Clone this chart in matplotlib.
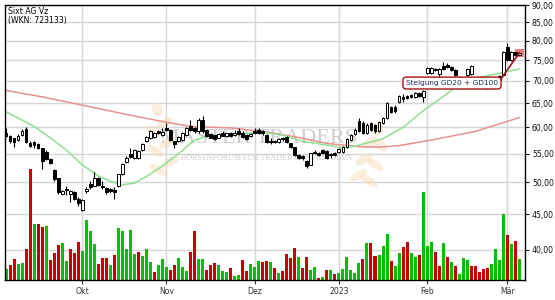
import matplotlib
matplotlib.use('Agg')
import matplotlib.pyplot as plt
from matplotlib.patches import Rectangle, Ellipse
from matplotlib.ticker import FixedLocator, NullLocator, FixedFormatter
import numpy as np

plt.rcParams['font.family'] = ['DejaVu Sans']

# --- data (one entry per trading day, Sep 2022 - Mar 2023) ---
opens = [58.9, 58.3, 57.9, 57.5, 58.5, 59.6, 56.9, 57.1, 56.8, 56.0,
         55.4, 54.0, 52.1, 50.7, 48.2, 49.0, 48.1, 48.4, 47.4, 45.6,
         48.6, 49.8, 49.5, 50.8, 49.4, 49.1, 49.0, 48.7, 49.5, 51.4,
         53.5, 55.0, 54.2, 54.3, 55.7, 57.3, 58.0, 58.2, 59.2, 58.6,
         59.8, 59.5, 57.3, 57.3, 57.5, 58.6, 60.2, 59.8, 59.2, 61.5,
         59.5, 58.7, 58.5, 58.0, 59.0, 58.4, 58.9, 58.6, 59.2, 59.0,
         58.6, 58.4, 59.3, 59.4, 59.3, 58.5, 57.4, 57.4, 57.1, 57.9,
         58.1, 56.9, 56.2, 54.7, 54.6, 53.7, 53.0, 55.4, 55.1, 55.7,
         55.5, 55.0, 55.2, 55.3, 55.4, 56.2, 57.6, 58.8, 61.2, 60.9,
         59.0, 60.8, 60.5, 59.3, 60.8, 61.9, 64.3, 64.2, 65.3, 66.4,
         66.6, 66.8, 66.4, 67.2, 66.4, 71.8, 71.8, 72.9, 71.5, 73.5,
         73.8, 73.2, 72.6, 71.0, 70.2, 71.4, 71.6, 70.5, 70.0, 69.4,
         69.0, 68.8, 69.4, 71.1, 71.4, 78.2, 75.0, 77.0, 76.3]
highs = [59.9, 58.5, 58.0, 58.7, 59.6, 60.0, 57.4, 57.3, 57.0, 56.1,
         55.6, 54.2, 52.3, 50.8, 48.7, 49.5, 48.7, 48.6, 47.6, 47.3,
         49.3, 50.3, 51.8, 51.0, 50.3, 49.2, 49.1, 49.2, 51.5, 53.3,
         54.6, 56.0, 55.8, 55.7, 57.0, 58.4, 59.5, 59.1, 59.4, 59.8,
         60.8, 59.7, 57.4, 58.4, 59.1, 60.0, 61.5, 60.0, 62.0, 62.4,
         59.7, 58.9, 58.6, 58.9, 59.2, 59.0, 59.1, 59.5, 59.9, 59.2,
         58.8, 59.0, 59.9, 59.8, 59.5, 58.7, 57.9, 57.6, 58.0, 58.1,
         58.3, 57.0, 56.3, 55.0, 54.8, 53.9, 55.2, 55.6, 55.3, 55.9,
         55.6, 55.2, 55.4, 56.1, 56.4, 57.9, 58.8, 59.8, 62.0, 61.2,
         60.8, 61.0, 60.7, 61.2, 62.1, 65.3, 64.5, 64.6, 66.9, 67.0,
         66.9, 67.0, 67.5, 67.4, 68.0, 73.2, 73.2, 73.1, 73.0, 74.5,
         74.2, 73.6, 72.8, 71.2, 71.0, 73.0, 73.7, 70.9, 70.4, 69.8,
         69.4, 69.8, 70.8, 71.3, 77.4, 79.4, 77.2, 77.3, 77.2]
lows = [58.1, 56.9, 56.3, 57.4, 58.4, 57.0, 56.2, 56.0, 55.9, 52.2,
        53.8, 53.1, 50.3, 48.2, 48.1, 48.0, 46.8, 47.2, 46.3, 45.5,
        48.3, 49.0, 49.4, 49.4, 49.0, 48.1, 48.3, 47.4, 49.3, 51.2,
        53.3, 54.3, 54.0, 54.1, 55.5, 57.1, 57.8, 58.0, 58.7, 58.4,
        59.3, 57.4, 56.0, 57.1, 57.3, 58.4, 59.3, 58.9, 59.0, 59.0,
        58.1, 57.9, 57.6, 57.9, 58.3, 58.2, 58.1, 58.4, 58.6, 58.0,
        57.6, 58.2, 58.8, 58.8, 58.6, 57.0, 56.8, 56.9, 57.0, 57.3,
        57.0, 56.1, 54.5, 54.0, 53.8, 52.5, 52.9, 54.9, 54.6, 55.0,
        54.0, 54.2, 54.6, 55.1, 55.2, 56.0, 57.4, 58.6, 59.1, 58.8,
        58.8, 59.3, 59.0, 59.1, 60.6, 61.7, 62.9, 63.0, 65.0, 65.3,
        65.9, 66.2, 66.2, 66.3, 65.3, 71.5, 71.6, 72.3, 71.2, 72.6,
        73.0, 72.3, 71.2, 69.5, 69.8, 71.2, 71.4, 69.6, 69.2, 68.6,
        68.2, 68.5, 69.2, 69.9, 71.2, 74.8, 74.8, 76.0, 76.1]
closes = [58.4, 57.3, 57.1, 58.4, 59.3, 57.1, 56.5, 56.7, 56.0, 53.6,
          54.0, 53.3, 50.5, 48.4, 48.6, 48.7, 48.6, 47.4, 46.7, 47.2,
          49.0, 49.2, 50.7, 49.6, 49.2, 48.5, 48.6, 48.5, 51.4, 53.1,
          54.3, 54.4, 55.6, 55.5, 56.8, 58.2, 59.2, 58.9, 59.0, 59.1,
          59.5, 57.6, 56.8, 58.2, 58.9, 59.8, 59.5, 59.2, 61.5, 59.2,
          58.3, 58.0, 57.8, 58.7, 58.4, 58.9, 58.3, 59.0, 58.8, 58.2,
          57.8, 58.8, 59.0, 59.0, 58.9, 57.1, 57.1, 57.1, 57.8, 57.7,
          57.1, 56.3, 54.7, 54.3, 54.2, 52.8, 55.1, 55.1, 54.8, 55.1,
          54.2, 54.7, 54.8, 55.9, 56.2, 57.7, 58.6, 59.5, 59.3, 59.0,
          60.5, 59.5, 59.3, 61.0, 61.9, 65.0, 63.1, 63.4, 66.6, 66.0,
          66.2, 66.4, 67.3, 66.5, 67.7, 73.0, 73.0, 72.5, 72.8, 72.8,
          73.2, 72.6, 71.4, 70.0, 70.8, 72.8, 73.5, 70.0, 69.5, 69.0,
          68.6, 69.4, 70.3, 70.2, 77.1, 75.0, 76.9, 76.3, 76.8]
volume = [11, 15, 21, 16, 17, 31, 111, 56, 56, 53, 54, 20, 27, 35, 37, 19, 31, 27, 38, 29,
          60, 49, 36, 16, 22, 22, 15, 25, 52, 49, 31, 50, 26, 28, 24, 31, 18, 8, 15, 21,
          13, 10, 15, 22, 13, 9, 28, 49, 21, 21, 10, 15, 17, 15, 9, 8, 12, 4, 5, 20,
          9, 16, 13, 19, 18, 19, 18, 12, 7, 9, 26, 22, 32, 23, 12, 23, 10, 13, 2, 3,
          10, 10, 6, 7, 11, 23, 10, 7, 17, 21, 37, 37, 24, 25, 34, 46, 19, 14, 27, 33,
          38, 27, 23, 25, 88, 34, 38, 28, 14, 37, 23, 18, 14, 6, 22, 20, 14, 14, 8, 11,
          12, 16, 31, 20, 66, 45, 36, 39, 21]
vol_dir = ('grrggrrgrrgrrrggrrrg' 'gggrrrgrgggggrgggrgg' 'grrgggrrggrrrgggrggr'
           'rgggrrgrgrrrrgrrggrg' 'rgrggggggrgrrgggrggr' 'rggrgggrrgrgrgggrrrr'
           'rggggrgrg')

# moving averages, read at a few days
gd20_day = [0, 7, 11, 15, 19, 23, 26, 29, 32, 35, 39, 43, 47, 51, 55, 59, 64, 69,
            74, 79, 84, 87, 90, 94, 99, 104, 108, 112, 117, 123, 128]
gd20_val = [63.2, 60.2, 58.0, 55.7, 53.0, 51.1, 50.2, 49.6, 49.9, 51.0, 52.8, 55.0,
            57.5, 58.5, 58.6, 58.8, 59.0, 58.5, 57.3, 56.7, 56.1, 56.4, 57.0, 57.8,
            60.0, 63.4, 65.8, 68.5, 70.6, 71.8, 72.8]
gd100_day = [0, 9, 19, 32, 39, 46, 56, 64, 72, 80, 88, 93, 98, 105, 117, 128]
gd100_val = [67.8, 66.4, 64.6, 62.3, 61.2, 60.2, 59.9, 59.2, 58.2, 56.9, 56.3, 56.2,
             56.5, 57.4, 59.2, 62.0]

month_pos = [19, 40, 62, 83, 105, 125]
month_labels = ['Okt', 'Nov', 'Dez', '2023', 'Feb', 'Mär']
price_ticks = [40, 45, 50, 55, 60, 65, 70, 75, 80, 85, 90]

x = np.arange(len(closes))
o = np.array(opens)
c = np.array(closes)

fig = plt.figure(figsize=(5.55, 3.0), dpi=100)
base = fig.add_axes([5 / 555, 20 / 300, 520 / 555, 275 / 300])
base.set_yscale('log')
base.set_ylim(36.2, 90)
base.set_xlim(-0.25, 129.4)
base.grid(True, color='#d6d6d6', lw=1)
for s in base.spines.values():
    s.set_visible(False)

# volume
vol = base.twinx()
vol.set_ylim(0, 275)
vol.yaxis.set_visible(False)
for s in vol.spines.values():
    s.set_visible(False)
vcols = ['#00c000' if d == 'g' else '#c80000' for d in vol_dir]
vol.bar(x, volume, width=0.75, color=vcols, linewidth=0)

# price
px = base.twinx()
px.set_yscale('log')
px.set_ylim(36.2, 90)
px.yaxis.set_visible(False)
for s in px.spines.values():
    s.set_color('black')
    s.set_linewidth(1)

# ticks on the base axis (twinx moved them to the left, put them back right)
base.yaxis.set_major_locator(FixedLocator(price_ticks))
base.yaxis.set_minor_locator(NullLocator())
base.yaxis.set_major_formatter(FixedFormatter(['%d,00' % v for v in price_ticks]))
base.yaxis.tick_right()
base.set_xticks(month_pos)
base.set_xticklabels(month_labels)
base.tick_params(axis='y', labelsize=5.6, length=3, pad=2, colors='#111111', width=0.8)
base.tick_params(axis='x', labelsize=5.6, length=3, pad=2, colors='#333333', width=0.8)

# watermark: text plus two faint wheat sprigs
px.text(0.487, 0.516, 'MASTER TRADERS', transform=px.transAxes, ha='center', va='center',
        fontsize=16, family='Liberation Serif', color='#cdcdcd', zorder=0)
px.text(0.504, 0.445, 'BÖRSENFORUM FÜR TRADER & INVESTOREN', transform=px.transAxes,
        ha='center', va='center', fontsize=5.8, family='Liberation Serif',
        color='#cdcdcd', zorder=0)
for cx, cy, ang in [(0.295, 0.40, 35), (0.318, 0.43, -35), (0.288, 0.47, 30),
                    (0.312, 0.50, -30), (0.285, 0.54, 25), (0.306, 0.57, -25),
                    (0.293, 0.62, 5),
                    (0.680, 0.38, -35), (0.700, 0.36, 35), (0.690, 0.44, -30),
                    (0.712, 0.42, 30), (0.702, 0.50, -25), (0.722, 0.49, 25),
                    (0.716, 0.55, -5)]:
    px.add_patch(Ellipse((cx, cy), 0.022, 0.05, angle=ang, transform=px.transAxes,
                         facecolor='#f7dcb8', edgecolor='none', alpha=0.5, zorder=0))

px.plot(gd100_day, gd100_val, color='#e89090', lw=1.1, zorder=2)
px.plot(gd20_day, gd20_val, color='#8fe08f', lw=1.1, zorder=2)

px.vlines(x, lows, highs, color='black', lw=0.8, zorder=3)
body_col = np.where(c >= o, 'white', 'black')
px.bar(x, np.abs(c - o), bottom=np.minimum(o, c), width=0.7, color=body_col,
       edgecolor='black', linewidth=0.7, zorder=4)

# marker on last close
last = closes[-1]
px.add_patch(Rectangle((x[-1] - 1.05, last * 0.986), 2.15, last * 0.028,
                       facecolor='#f06a6a', edgecolor='none', alpha=0.9, zorder=3.5))

px.annotate('Steigung GD20 + GD100', xy=(x[-1], last), xytext=(111.2, 69.5),
            ha='center', va='center', fontsize=5.3, color='#1c2d5c',
            bbox=dict(boxstyle='round,pad=0.4', fc='white', ec='#a01414', lw=1),
            arrowprops=dict(arrowstyle='-', color='#a01414', lw=1.2, relpos=(1, 0.5),
                            shrinkA=0, shrinkB=0),
            zorder=6)

fig.text(8 / 555, 1 - 12 / 300, 'Sixt AG Vz', fontsize=5.6, va='center', ha='left')
fig.text(8 / 555, 1 - 21 / 300, '(WKN: 723133)', fontsize=5.6, va='center', ha='left')

fig.savefig('out.png', dpi=100)
